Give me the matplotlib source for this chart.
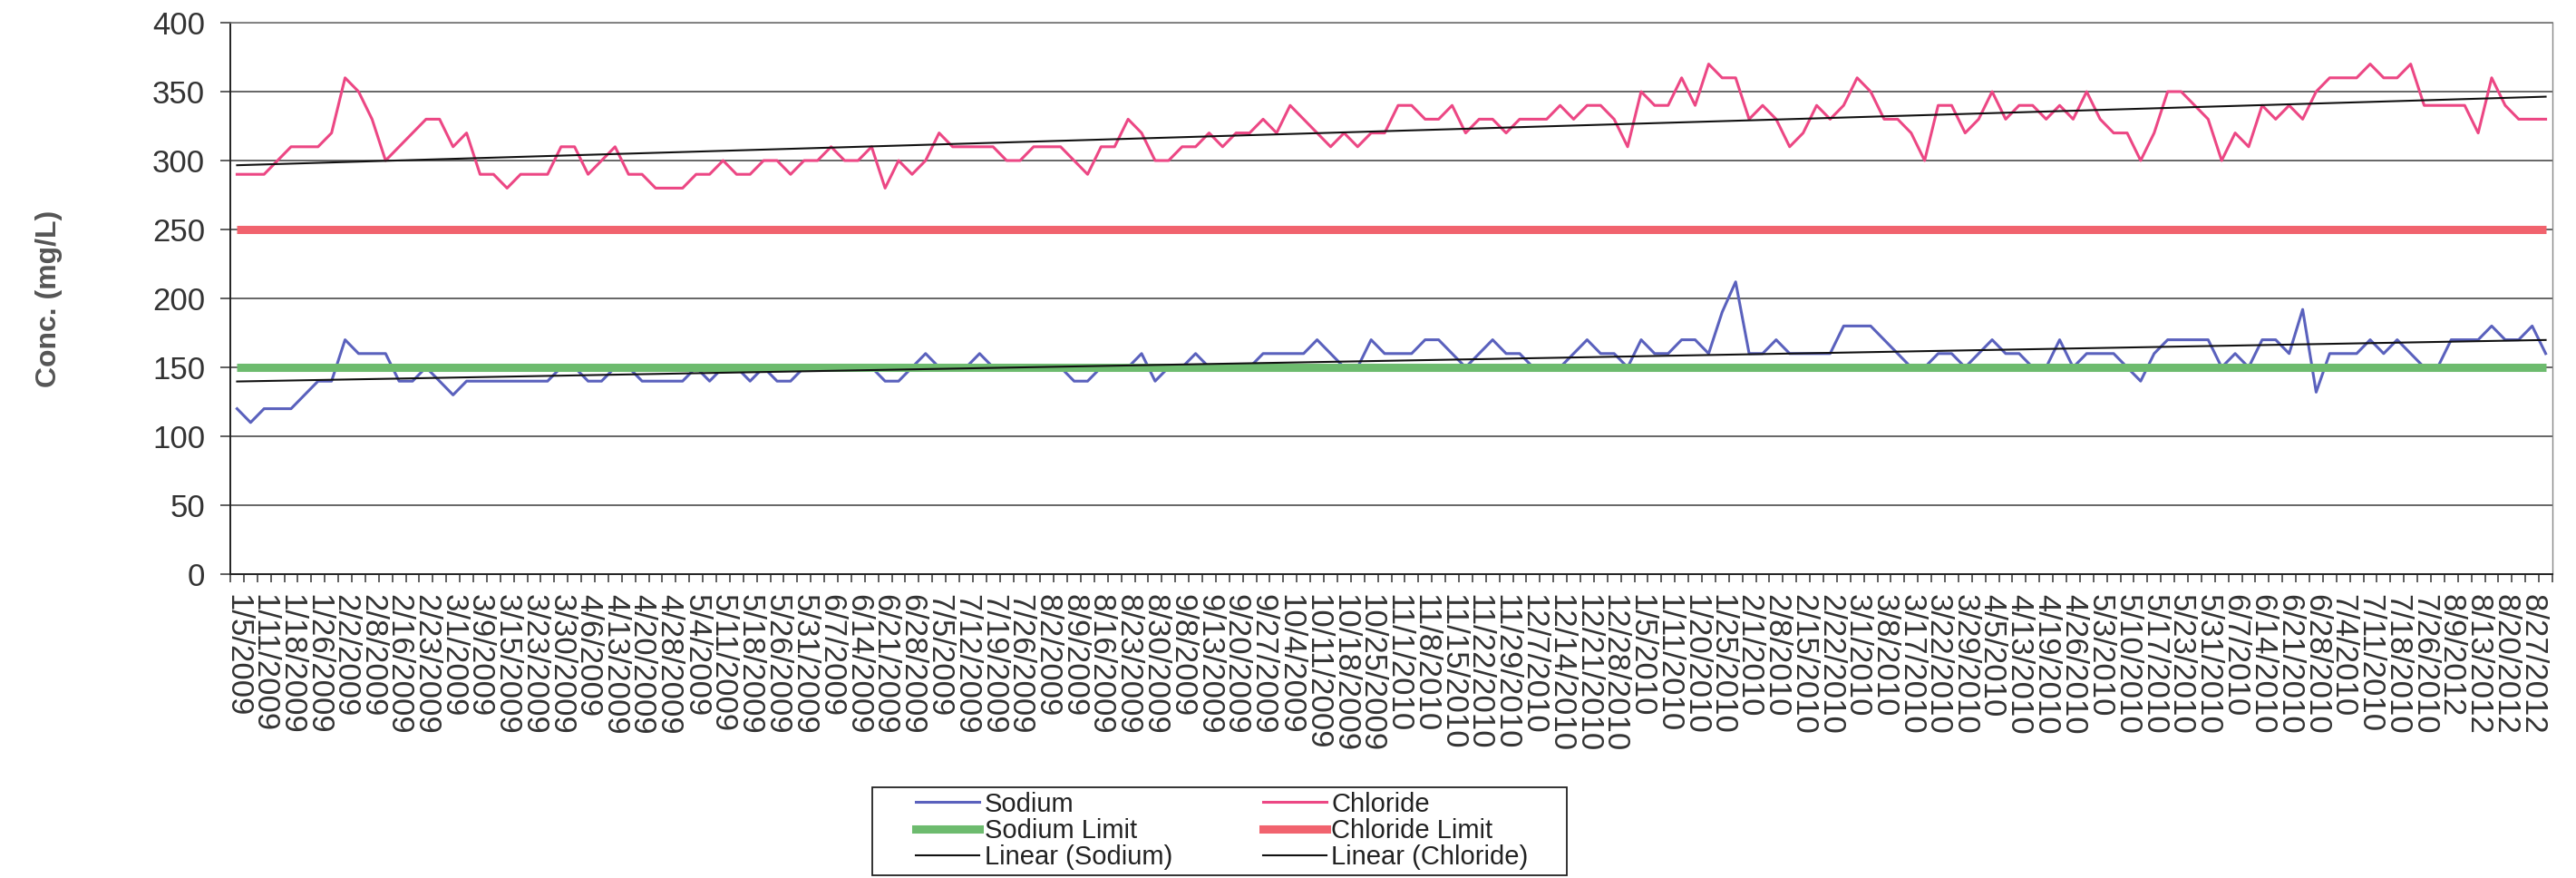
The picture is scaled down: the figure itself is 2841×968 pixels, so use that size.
import matplotlib
matplotlib.use("Agg")
import matplotlib.pyplot as plt
from matplotlib.lines import Line2D
from matplotlib.patches import Rectangle
import numpy as np

plt.rcParams['font.family'] = ['Liberation Sans', 'DejaVu Sans']

# ---------------- data ----------------
tick_labels = [
    '1/5/2009', '1/11/2009', '1/18/2009', '1/26/2009', '2/2/2009', '2/8/2009', '2/16/2009', '2/23/2009',
    '3/1/2009', '3/9/2009', '3/15/2009', '3/23/2009', '3/30/2009', '4/6/2009', '4/13/2009', '4/20/2009', '4/28/2009',
    '5/4/2009', '5/11/2009', '5/18/2009', '5/26/2009', '5/31/2009', '6/7/2009', '6/14/2009', '6/21/2009', '6/28/2009',
    '7/5/2009', '7/12/2009', '7/19/2009', '7/26/2009', '8/2/2009', '8/9/2009', '8/16/2009', '8/23/2009', '8/30/2009',
    '9/8/2009', '9/13/2009', '9/20/2009', '9/27/2009', '10/4/2009', '10/11/2009', '10/18/2009', '10/25/2009',
    '11/1/2010', '11/8/2010', '11/15/2010', '11/22/2010', '11/29/2010', '12/7/2010', '12/14/2010', '12/21/2010', '12/28/2010',
    '1/5/2010', '1/11/2010', '1/20/2010', '1/25/2010', '2/1/2010', '2/8/2010', '2/15/2010', '2/22/2010',
    '3/1/2010', '3/8/2010', '3/17/2010', '3/22/2010', '3/29/2010', '4/5/2010', '4/13/2010', '4/19/2010', '4/26/2010',
    '5/3/2010', '5/10/2010', '5/17/2010', '5/23/2010', '5/31/2010', '6/7/2010', '6/14/2010', '6/21/2010', '6/28/2010',
    '7/4/2010', '7/11/2010', '7/18/2010', '7/26/2010', '8/9/2012', '8/13/2012', '8/20/2012', '8/27/2012',
]

sodium = [
    120, 110, 120, 120, 120, 130, 140, 140, 170, 160,
    160, 160, 140, 140, 150, 140, 130, 140, 140, 140,
    140, 140, 140, 140, 150, 150, 140, 140, 150, 150,
    140, 140, 140, 140, 150, 140, 150, 150, 140, 150,
    140, 140, 150, 150, 150, 150, 150, 150, 140, 140,
    150, 160, 150, 150, 150, 160, 150, 150, 150, 150,
    150, 150, 140, 140, 150, 150, 150, 160, 140, 150,
    150, 160, 150, 150, 150, 150, 160, 160, 160, 160,
    170, 160, 150, 150, 170, 160, 160, 160, 170, 170,
    160, 150, 160, 170, 160, 160, 150, 150, 150, 160,
    170, 160, 160, 150, 170, 160, 160, 170, 170, 160,
    190, 212, 160, 160, 170, 160, 160, 160, 160, 180,
    180, 180, 170, 160, 150, 150, 160, 160, 150, 160,
    170, 160, 160, 150, 150, 170, 150, 160, 160, 160,
    150, 140, 160, 170, 170, 170, 170, 150, 160, 150,
    170, 170, 160, 192, 132, 160, 160, 160, 170, 160,
    170, 160, 150, 150, 170, 170, 170, 180, 170, 170,
    180, 160,
]

chloride = [
    290, 290, 290, 300, 310, 310, 310, 320, 360, 350,
    330, 300, 310, 320, 330, 330, 310, 320, 290, 290,
    280, 290, 290, 290, 310, 310, 290, 300, 310, 290,
    290, 280, 280, 280, 290, 290, 300, 290, 290, 300,
    300, 290, 300, 300, 310, 300, 300, 310, 280, 300,
    290, 300, 320, 310, 310, 310, 310, 300, 300, 310,
    310, 310, 300, 290, 310, 310, 330, 320, 300, 300,
    310, 310, 320, 310, 320, 320, 330, 320, 340, 330,
    320, 310, 320, 310, 320, 320, 340, 340, 330, 330,
    340, 320, 330, 330, 320, 330, 330, 330, 340, 330,
    340, 340, 330, 310, 350, 340, 340, 360, 340, 370,
    360, 360, 330, 340, 330, 310, 320, 340, 330, 340,
    360, 350, 330, 330, 320, 300, 340, 340, 320, 330,
    350, 330, 340, 340, 330, 340, 330, 350, 330, 320,
    320, 300, 320, 350, 350, 340, 330, 300, 320, 310,
    340, 330, 340, 330, 350, 360, 360, 360, 370, 360,
    360, 370, 340, 340, 340, 340, 320, 360, 340, 330,
    330, 330,
]

SODIUM_LIMIT = 150
CHLORIDE_LIMIT = 250

# ---------------- figure ----------------
W, H, DPI = 2841, 968, 100
fig = plt.figure(figsize=(W / DPI, H / DPI), dpi=DPI)
L, R, T, B = 254, 2815, 25, 633
ax = fig.add_axes([L / W, 1 - B / H, (R - L) / W, (B - T) / H])

n = len(sodium)
x = np.arange(n)
na = np.array(sodium, float)
cl = np.array(chloride, float)

C_NA, C_CL, C_NAL, C_CLL, C_TR = '#5A61BD', '#EC4784', '#6DBB6E', '#F1636E', '#111111'

ax.plot(x, na, color=C_NA, lw=2.2, zorder=3)
ax.plot(x, cl, color=C_CL, lw=2.2, zorder=3)
ax.plot(x, np.full(n, SODIUM_LIMIT), color=C_NAL, lw=6.5, zorder=4, solid_capstyle='butt')
ax.plot(x, np.full(n, CHLORIDE_LIMIT), color=C_CLL, lw=6.5, zorder=4, solid_capstyle='butt')

pn = np.polyfit(x, na, 1)
pc = np.polyfit(x, cl, 1)
ax.plot(x, np.polyval(pn, x), color=C_TR, lw=1.5, zorder=5)
ax.plot(x, np.polyval(pc, x), color=C_TR, lw=1.5, zorder=5)

ax.set_xlim(-0.5, n - 0.5)
ax.set_ylim(0, 400)
ax.set_yticks(np.arange(0, 401, 50))
ax.yaxis.grid(True, color='#3c3c3c', lw=1.1)
ax.set_axisbelow(True)

ax.set_xticks(np.arange(0, 2 * len(tick_labels), 2))
ax.set_xticklabels(tick_labels, rotation=-90, ha='center', va='top',
                   fontsize=25, color='#333333')
ax.set_xticks(np.arange(-0.5, n, 1), minor=True)
ax.tick_params(axis='x', which='major', length=0, pad=16)
ax.tick_params(axis='x', which='minor', length=6.5, width=1.1, color='#333333', direction='out')
ax.tick_params(axis='y', length=8, width=1.1, color='#333333', pad=12,
               labelsize=25, labelcolor='#333333')

for s in ('left', 'bottom'):
    ax.spines[s].set_color('#222222')
    ax.spines[s].set_linewidth(1.4)
ax.spines['top'].set_color('#777777')
ax.spines['top'].set_linewidth(1.2)
ax.spines['right'].set_color('#888888')
ax.spines['right'].set_linewidth(1.0)

fig.text(54 / W, 1 - 329 / H, 'Conc. (mg/L)', rotation=90, ha='center', va='center',
         fontsize=23, fontweight='bold', color='#555555')

handles = [
    Line2D([], [], color=C_NA, lw=2.2),
    Line2D([], [], color=C_NAL, lw=6.5),
    Line2D([], [], color=C_TR, lw=1.5),
    Line2D([], [], color=C_CL, lw=2.2),
    Line2D([], [], color=C_CLL, lw=6.5),
    Line2D([], [], color=C_TR, lw=1.5),
]
labels = ['Sodium', 'Sodium Limit', 'Linear (Sodium)',
          'Chloride', 'Chloride Limit', 'Linear (Chloride)']
leg = fig.legend(handles, labels, ncol=2, loc='center',
                 bbox_to_anchor=(1348 / W, 1 - 916 / H),
                 frameon=False, fontsize=21,
                 handlelength=2.4, handletextpad=0.2, columnspacing=3.4,
                 labelspacing=0.05, borderpad=0.3, borderaxespad=0)
for t in leg.get_texts():
    t.set_color('#222222')
fig.patches.append(Rectangle((962 / W, 1 - 965 / H), 766 / W, 97 / H,
                             transform=fig.transFigure, fill=False,
                             ec='#222222', lw=1.3))

fig.savefig('out.png', dpi=DPI, facecolor='white')
